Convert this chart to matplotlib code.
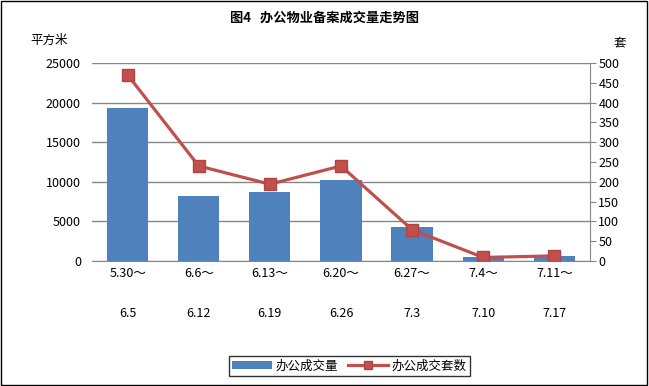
import matplotlib.pyplot as plt
import numpy as np

plt.rcParams['font.family'] = ['Noto Sans CJK SC', 'DejaVu Sans']

# 周次
week_start = ['5.30～', '6.6～', '6.13～', '6.20～', '6.27～', '7.4～', '7.11～']
week_end = ['6.5', '6.12', '6.19', '6.26', '7.3', '7.10', '7.17']
area = [19300, 8200, 8700, 10250, 4250, 500, 630]      # 办公成交量 (平方米)
units = [470, 240, 194, 240, 79, 9, 13]                 # 办公成交套数 (套)

blue = '#4F81BD'
red = '#C0504D'
grid_c = '#868686'

fig = plt.figure(figsize=(6.49, 3.86), dpi=100)
ax = fig.add_axes([0.1418, 0.3238, 0.7672, 0.513])
ax2 = ax.twinx()

x = np.arange(len(area))
bars = ax.bar(x, area, width=0.58, color=blue, label='办公成交量', zorder=2)
ln, = ax2.plot(x, units, color=red, lw=2.3, marker='s', markersize=8,
               markerfacecolor=red, markeredgecolor='#B04440', label='办公成交套数', zorder=3)

ax.set_xlim(-0.5, len(area) - 0.5)
ax.set_ylim(0, 25000)
ax.set_yticks(range(0, 25001, 5000))
ax2.set_ylim(0, 500)
ax2.set_yticks(range(0, 501, 50))

ax.grid(axis='y', color=grid_c, lw=1, zorder=0)
ax.set_axisbelow(True)
for a in (ax, ax2):
    for s in ('top', 'left', 'right'):
        a.spines[s].set_visible(False)
ax.spines['bottom'].set_color(grid_c)
ax2.spines['bottom'].set_visible(False)
ax2.spines['right'].set_visible(True)
ax2.spines['right'].set_color(grid_c)

ax.tick_params(axis='y', length=0, labelsize=9, pad=8)
ax2.tick_params(axis='y', length=4, color=grid_c, labelsize=9, pad=2)
ax.set_xticks(x)
ax.set_xticklabels([f'{a}\n\n{b}' for a, b in zip(week_start, week_end)],
                   fontsize=9, linespacing=1.7)
ax.tick_params(axis='x', length=0, pad=4)

fig.text(0.5, 0.953, '图4   办公物业备案成交量走势图', ha='center', va='center',
         fontsize=9.5, fontweight='bold')
fig.text(0.046, 0.895, '平方米', ha='left', va='center', fontsize=9)
fig.text(0.955, 0.89, '套', ha='center', va='center', fontsize=9)

leg = fig.legend([bars, ln], ['办公成交量', '办公成交套数'], loc='center',
                 bbox_to_anchor=(0.538, 0.052), ncol=2, fontsize=9, frameon=True,
                 fancybox=False, edgecolor='black', handlelength=3.2,
                 handletextpad=0.3, columnspacing=0.8, borderpad=0.25,
                 markerscale=0.75)
leg.get_frame().set_linewidth(1)

fig.add_artist(plt.Rectangle((0.002, 0.003), 0.995, 0.994, transform=fig.transFigure,
                             fill=False, edgecolor='black', lw=1))

fig.savefig('out.png', dpi=100)
